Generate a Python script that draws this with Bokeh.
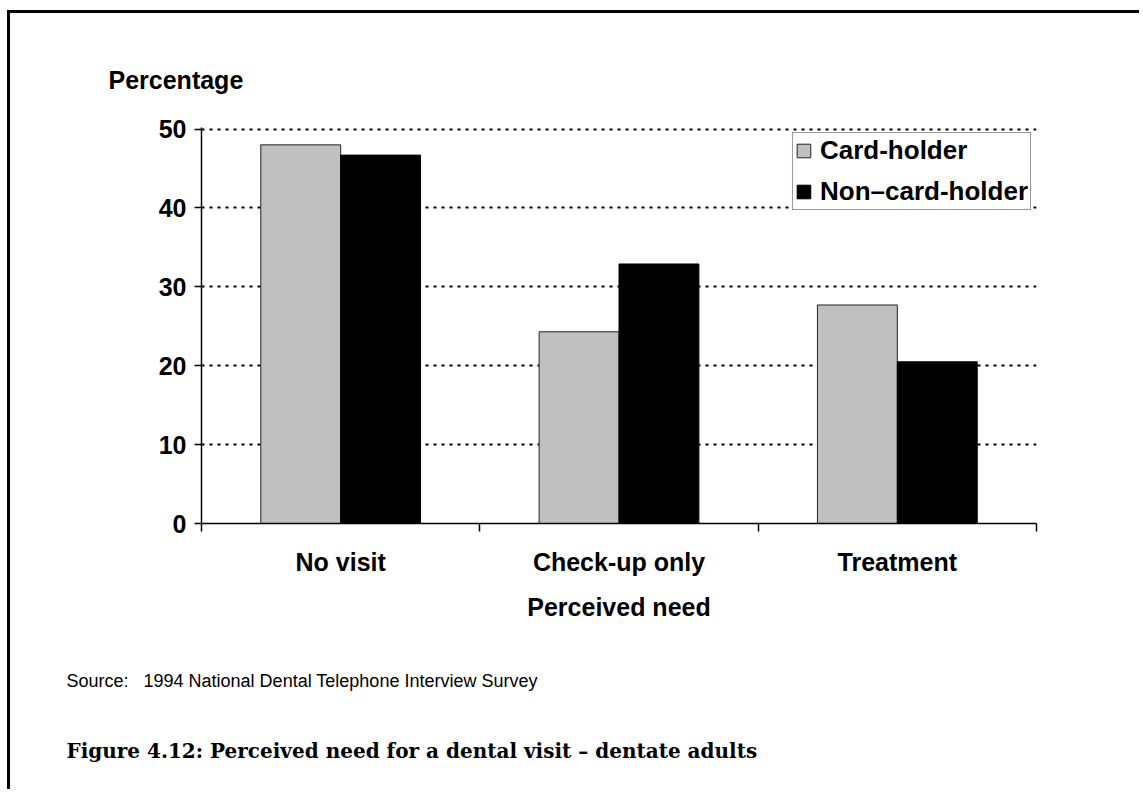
from bokeh.plotting import figure
from bokeh.models import (Range1d, FixedTicker, Title, ColumnDataSource, Legend, LegendItem)
from bokeh.transform import dodge
from bokeh.embed import file_html
from bokeh.resources import INLINE

categories = ["No visit", "Check-up only", "Treatment"]
card_holder = [48.0, 24.3, 27.7]
non_card_holder = [46.7, 32.9, 20.5]
series_names = ["Card-holder", "Non\u2013card-holder"]
y_ticks = [0, 10, 20, 30, 40, 50]
y_title = "Percentage"
x_title = "Perceived need"
source_note = "Source:\u00a0\u00a0 1994 National Dental Telephone Interview Survey"
caption = "Figure 4.12: Perceived need for a dental visit \u2013 dentate adults"

SANS = "Liberation Sans"
OX, OY = 10, 13          # canvas origin on the page (after css border)
W, H = 1132, 779
FL, FR, FT, FB = 201, 1036, 127, 523   # frame edges on the page

n = len(categories)
centers = [i + 0.5 for i in range(n)]
bounds = [float(i) for i in range(n + 1)]

p = figure(width=W, height=H, x_range=Range1d(0, n), y_range=Range1d(0, 50.2),
           output_backend="svg", toolbar_location=None,
           min_border_left=FL - OX, min_border_right=W - (FR - OX),
           min_border_top=FT - OY, min_border_bottom=H - (FB - OY))
p.outline_line_color = None
p.background_fill_color = "white"
p.border_fill_color = "white"
p.styles = {"border-left": "3px solid black", "border-top": "3px solid black",
            "margin-left": "7px", "margin-top": "10px"}

src = ColumnDataSource(dict(x=centers, cat=categories, card=card_holder, non=non_card_holder))
bw = 0.287
r1 = p.vbar(x=dodge("x", -bw / 2), top="card", width=bw, source=src,
            fill_color="#C0C0C0", line_color="#222222", line_width=1)
r2 = p.vbar(x=dodge("x", bw / 2), top="non", width=bw, source=src,
            fill_color="black", line_color="black", line_width=1)

# grid
p.xgrid.visible = False
p.ygrid.ticker = FixedTicker(ticks=y_ticks[1:])
p.ygrid.grid_line_color = "black"
p.ygrid.grid_line_width = 2
p.ygrid.grid_line_dash = "3 5"

# y axis
ya = p.yaxis[0]
ya.ticker = FixedTicker(ticks=y_ticks)
ya.major_tick_out = 7
ya.major_tick_in = 0
ya.minor_tick_line_color = None
ya.axis_line_width = 1.5
ya.major_tick_line_width = 1.5
ya.major_label_standoff = 8
ya.major_label_text_font = SANS
ya.major_label_text_font_style = "bold"
ya.major_label_text_font_size = "25px"
ya.major_label_text_color = "black"

# x axis: labels at category centres, ticks (minor) at category boundaries
xa = p.xaxis[0]
xa.ticker = FixedTicker(ticks=centers, minor_ticks=bounds)
xa.major_label_overrides = {c: lab for c, lab in zip(centers, categories)}
xa.major_tick_out = 0
xa.major_tick_in = 0
xa.major_tick_line_color = None
xa.minor_tick_out = 8
xa.minor_tick_in = 0
xa.minor_tick_line_width = 1.5
xa.minor_tick_line_color = "black"
xa.axis_line_width = 1.5
xa.major_label_standoff = 16
xa.major_label_text_font = SANS
xa.major_label_text_font_style = "bold"
xa.major_label_text_font_size = "25px"
xa.major_label_text_color = "black"
xa.axis_label = x_title
xa.axis_label_standoff = 14
xa.axis_label_text_font = SANS
xa.axis_label_text_font_style = "bold"
xa.axis_label_text_font_size = "25px"
xa.axis_label_text_color = "black"

# legend
legend = Legend(items=[LegendItem(label=series_names[0], renderers=[r1]),
                       LegendItem(label=series_names[1], renderers=[r2])],
                location="top_right", margin=5, padding=2, spacing=10,
                glyph_width=17, glyph_height=17, label_standoff=8,
                label_text_font=SANS, label_text_font_style="bold",
                label_text_font_size="26px", label_text_color="black",
                border_line_color="#333333", border_line_width=1,
                background_fill_color="white", background_fill_alpha=1)
p.add_layout(legend)

# texts outside the plot area
p.add_layout(Title(text=y_title, align="left", offset=108 - FL, standoff=67,
                   text_font=SANS, text_font_style="bold", text_font_size="25px",
                   text_color="black"), "above")
p.add_layout(Title(text=source_note, align="left", offset=66 - FL, standoff=91,
                   text_font=SANS, text_font_style="normal", text_font_size="18px",
                   text_color="black"), "below")
p.add_layout(Title(text=caption, align="left", offset=66 - FL, standoff=0,
                   text_font="DejaVu Serif", text_font_style="bold", text_font_size="20px",
                   text_color="black"), "below")

open("out.html", "w").write(file_html(p, INLINE))
